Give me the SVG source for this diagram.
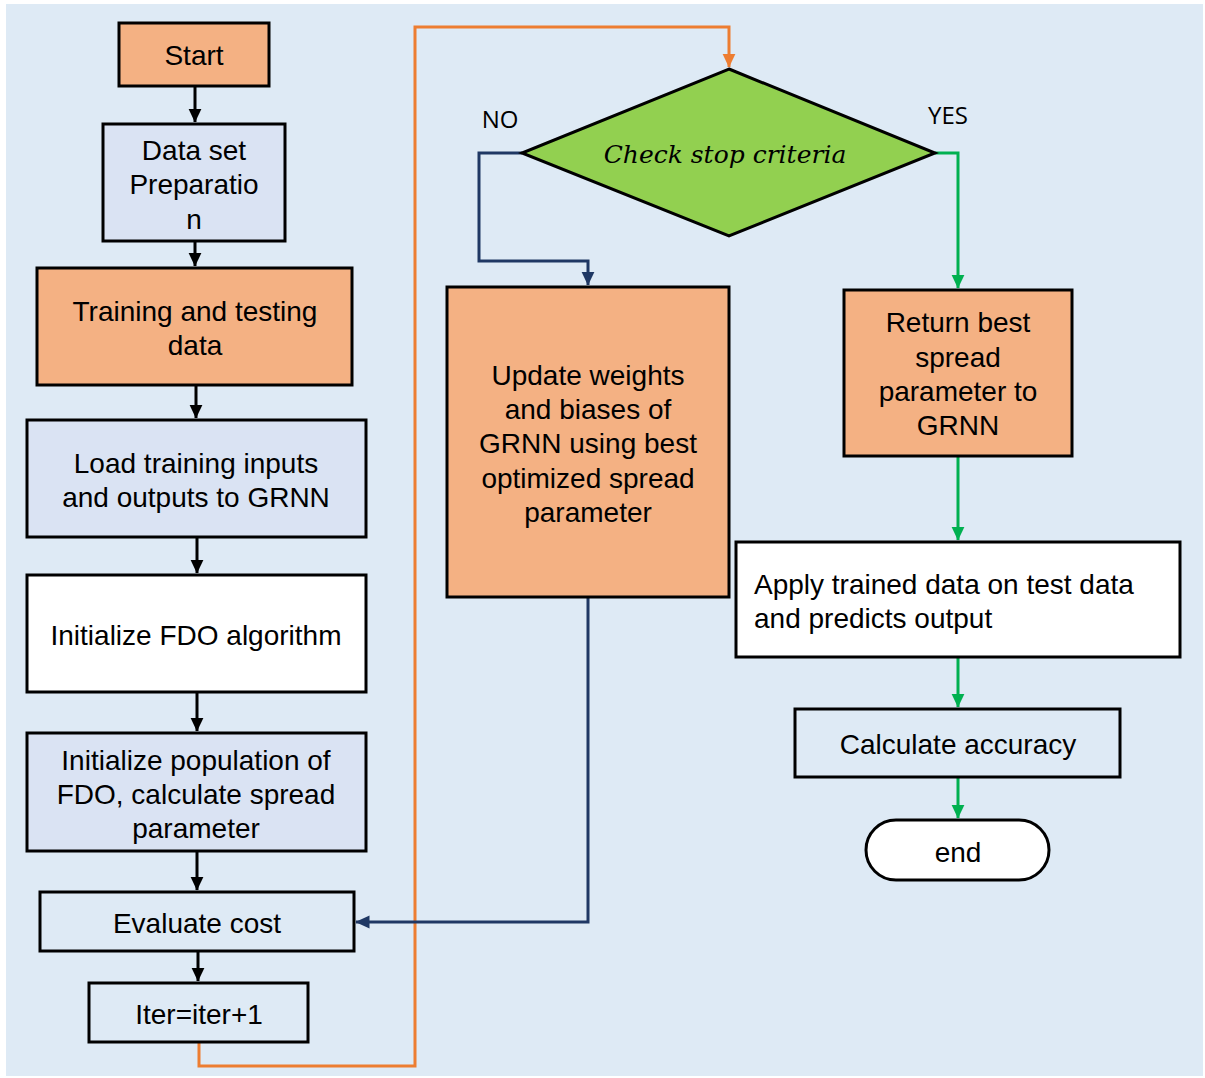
<svg xmlns="http://www.w3.org/2000/svg" width="1205" height="1078" viewBox="0 0 1205 1078">
<style>
.box{stroke:#000;stroke-width:3}
.peach{fill:#f4b183}
.lb{fill:#dae3f3}
.wh{fill:#fff}
.bg{fill:#deeaf5}
.t{font-family:"Liberation Sans",Arial,sans-serif;font-size:28px;fill:#000;text-anchor:middle}
.s{text-anchor:start}
.lbl{font-family:"Open Sans","Liberation Sans",sans-serif;font-size:24px;fill:#000;text-anchor:middle}
.k{stroke:#000;stroke-width:3;fill:none}
.o{stroke:#ed7d31;stroke-width:3;fill:none}
.b{stroke:#1f3864;stroke-width:3;fill:none}
.g{stroke:#00b050;stroke-width:3;fill:none}
</style>
<defs>
<marker id="ak" markerWidth="5" markerHeight="5" refX="4.5" refY="2.5" orient="auto" markerUnits="strokeWidth"><path d="M0,0.3 L4.7,2.5 L0,4.7 z" fill="#000"/></marker>
<marker id="ao" markerWidth="5" markerHeight="5" refX="4.5" refY="2.5" orient="auto" markerUnits="strokeWidth"><path d="M0,0.3 L4.7,2.5 L0,4.7 z" fill="#ed7d31"/></marker>
<marker id="ab" markerWidth="5" markerHeight="5" refX="4.5" refY="2.5" orient="auto" markerUnits="strokeWidth"><path d="M0,0.3 L4.7,2.5 L0,4.7 z" fill="#1f3864"/></marker>
<marker id="ag" markerWidth="5" markerHeight="5" refX="4.5" refY="2.5" orient="auto" markerUnits="strokeWidth"><path d="M0,0.3 L4.7,2.5 L0,4.7 z" fill="#00b050"/></marker>
</defs>
<rect x="0" y="0" width="1205" height="1078" fill="#fff"/>
<rect x="6" y="4" width="1197" height="1072" class="bg"/>

<g id="connectors">
<path class="k" d="M195,86 V122" marker-end="url(#ak)"/>
<path class="k" d="M195,241 V266" marker-end="url(#ak)"/>
<path class="k" d="M196,385 V418" marker-end="url(#ak)"/>
<path class="k" d="M197,537 V573" marker-end="url(#ak)"/>
<path class="k" d="M197,692 V731" marker-end="url(#ak)"/>
<path class="k" d="M197,851 V890" marker-end="url(#ak)"/>
<path class="k" d="M198,951 V981" marker-end="url(#ak)"/>
<path class="o" d="M199,1042 V1066 H415 V27 H729 V67" marker-end="url(#ao)"/>
<path class="b" d="M522,153 H479 V261 H588 V285" marker-end="url(#ab)"/>
<path class="b" d="M588,597 V922 H356" marker-end="url(#ab)"/>
<path class="g" d="M935,153 H958 V288" marker-end="url(#ag)"/>
<path class="g" d="M958,456 V540" marker-end="url(#ag)"/>
<path class="g" d="M958,657 V707" marker-end="url(#ag)"/>
<path class="g" d="M958,777 V818" marker-end="url(#ag)"/>
</g>

<g id="start"><rect class="box peach" x="119" y="23" width="150" height="63"/><text class="t" x="194" y="65">Start</text></g>
<g id="dataset"><rect class="box lb" x="103" y="124" width="182" height="117"/>
<text class="t" x="194" y="160">Data set</text><text class="t" x="194" y="194">Preparatio</text><text class="t" x="194" y="229">n</text></g>
<g id="trainingtest"><rect class="box peach" x="37" y="268" width="315" height="117"/>
<text class="t" x="195" y="321">Training and testing</text><text class="t" x="195" y="355">data</text></g>
<g id="load"><rect class="box lb" x="27" y="420" width="339" height="117"/>
<text class="t" x="196" y="473">Load training inputs</text><text class="t" x="196" y="507">and outputs to GRNN</text></g>
<g id="initfdo"><rect class="box wh" x="27" y="575" width="339" height="117"/>
<text class="t" x="196" y="645">Initialize FDO algorithm</text></g>
<g id="initpop"><rect class="box lb" x="27" y="733" width="339" height="118"/>
<text class="t" x="196" y="770">Initialize population of</text><text class="t" x="196" y="804">FDO, calculate spread</text><text class="t" x="196" y="838">parameter</text></g>
<g id="evaluate"><rect class="box bg" x="40" y="892" width="314" height="59"/>
<text class="t" x="197" y="933">Evaluate cost</text></g>
<g id="iter"><rect class="box bg" x="89" y="983" width="219" height="59"/>
<text class="t" x="199" y="1024">Iter=iter+1</text></g>
<g id="check"><polygon points="729,69 935,153 729,236 522,153" fill="#92d050" stroke="#000" stroke-width="3"/>
<text x="725" y="163" font-family="'DejaVu Serif','Liberation Serif',serif" font-style="italic" font-size="25" text-anchor="middle">Check stop criteria</text></g>
<g id="labels"><text class="lbl" x="500" y="128">NO</text><text class="lbl" x="948" y="124">YES</text></g>
<g id="update"><rect class="box peach" x="447" y="287" width="282" height="310"/>
<text class="t" x="588" y="385">Update weights</text><text class="t" x="588" y="419">and biases of</text><text class="t" x="588" y="453">GRNN using best</text><text class="t" x="588" y="488">optimized spread</text><text class="t" x="588" y="522">parameter</text></g>
<g id="return"><rect class="box peach" x="844" y="290" width="228" height="166"/>
<text class="t" x="958" y="332">Return best</text><text class="t" x="958" y="367">spread</text><text class="t" x="958" y="401">parameter to</text><text class="t" x="958" y="435">GRNN</text></g>
<g id="apply"><rect class="box wh" x="736" y="542" width="444" height="115"/>
<text class="t s" x="754" y="594">Apply trained data on test data</text><text class="t s" x="754" y="628">and predicts output</text></g>
<g id="accuracy"><rect class="box bg" x="795" y="709" width="325" height="68"/>
<text class="t" x="958" y="754">Calculate accuracy</text></g>
<g id="end"><rect class="box wh" x="866" y="820" width="183" height="60" rx="30"/>
<text class="t" x="958" y="862">end</text></g>
</svg>
